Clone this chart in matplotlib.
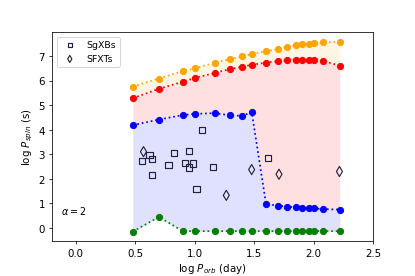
import numpy as np
import matplotlib
matplotlib.use("Agg")
import matplotlib.pyplot as plt

# log orbital period grid (day)
log_porb = [0.48, 0.70, 0.90, 1.00, 1.17, 1.30, 1.40, 1.48, 1.60, 1.70,
            1.78, 1.85, 1.90, 1.96, 2.00, 2.08, 2.22]

# boundary curves, log spin period (s)
spin_green = [-0.15, 0.45, -0.13, -0.13, -0.13, -0.13, -0.13, -0.13, -0.13, -0.13,
              -0.13, -0.13, -0.13, -0.13, -0.13, -0.13, -0.13]
spin_blue = [4.19, 4.42, 4.60, 4.65, 4.68, 4.59, 4.57, 4.72, 0.98, 0.91,
             0.87, 0.84, 0.81, 0.80, 0.80, 0.77, 0.75]
spin_red = [5.29, 5.67, 5.96, 6.11, 6.32, 6.48, 6.57, 6.65, 6.74, 6.80,
            6.84, 6.85, 6.85, 6.85, 6.85, 6.80, 6.62]
spin_orange = [5.76, 6.09, 6.39, 6.50, 6.74, 6.89, 7.00, 7.08, 7.20, 7.30,
               7.38, 7.44, 7.48, 7.51, 7.53, 7.56, 7.59]

# observed sources
sgxb_porb = [1.06, 0.62, 0.56, 0.64, 0.825, 0.95, 0.78, 0.92, 0.985, 0.95,
             1.153, 0.643, 1.016, 1.616]
sgxb_pspin = [3.99, 2.97, 2.74, 2.80, 3.05, 3.13, 2.58, 2.66, 2.63, 2.46,
              2.48, 2.16, 1.60, 2.84]
sfxt_porb = [0.57, 1.266, 1.479, 1.709, 2.217]
sfxt_pspin = [3.11, 1.33, 2.38, 2.19, 2.30]


def plot_spin_orbit(filename="out.png"):
    plt.rcParams["font.size"] = 10.7
    fig, ax = plt.subplots(figsize=(6, 4))
    fig.subplots_adjust(left=0.125, right=0.899, top=0.881, bottom=0.126)

    ax.fill_between(log_porb, spin_green, spin_blue, color="blue", alpha=0.12, lw=0)
    ax.fill_between(log_porb, spin_blue, spin_red, color="red", alpha=0.12, lw=0)
    ax.fill_between(log_porb, spin_red, spin_orange, color="orange", alpha=0.1, lw=0)

    for curve, col in [(spin_orange, "orange"), (spin_red, "red"),
                       (spin_blue, "blue"), (spin_green, "green")]:
        ax.plot(log_porb, curve, ":", color=col, marker="o", ms=6.5, lw=1.8)

    ax.scatter(sgxb_porb, sgxb_pspin, marker="s", s=42, facecolors="none",
               edgecolors="#22223a", lw=1.2, label="SgXBs", zorder=3)
    ax.scatter(sfxt_porb, sfxt_pspin, marker="d", s=55, facecolors="none",
               edgecolors="#22223a", lw=1.2, label="SFXTs", zorder=3)

    ax.text(-0.12, 0.55, r"$\alpha = 2$", fontsize=10)
    ax.set_xlim(-0.2, 2.5)
    ax.set_xlabel(r"log $P_{orb}$ (day)")
    ax.set_ylabel(r"log $P_{spin}$ (s)")
    ax.legend(loc="upper left", markerscale=0.7, fontsize=9.8)
    fig.savefig(filename, dpi=69.17)
    plt.close(fig)


if __name__ == "__main__":
    plot_spin_orbit()
